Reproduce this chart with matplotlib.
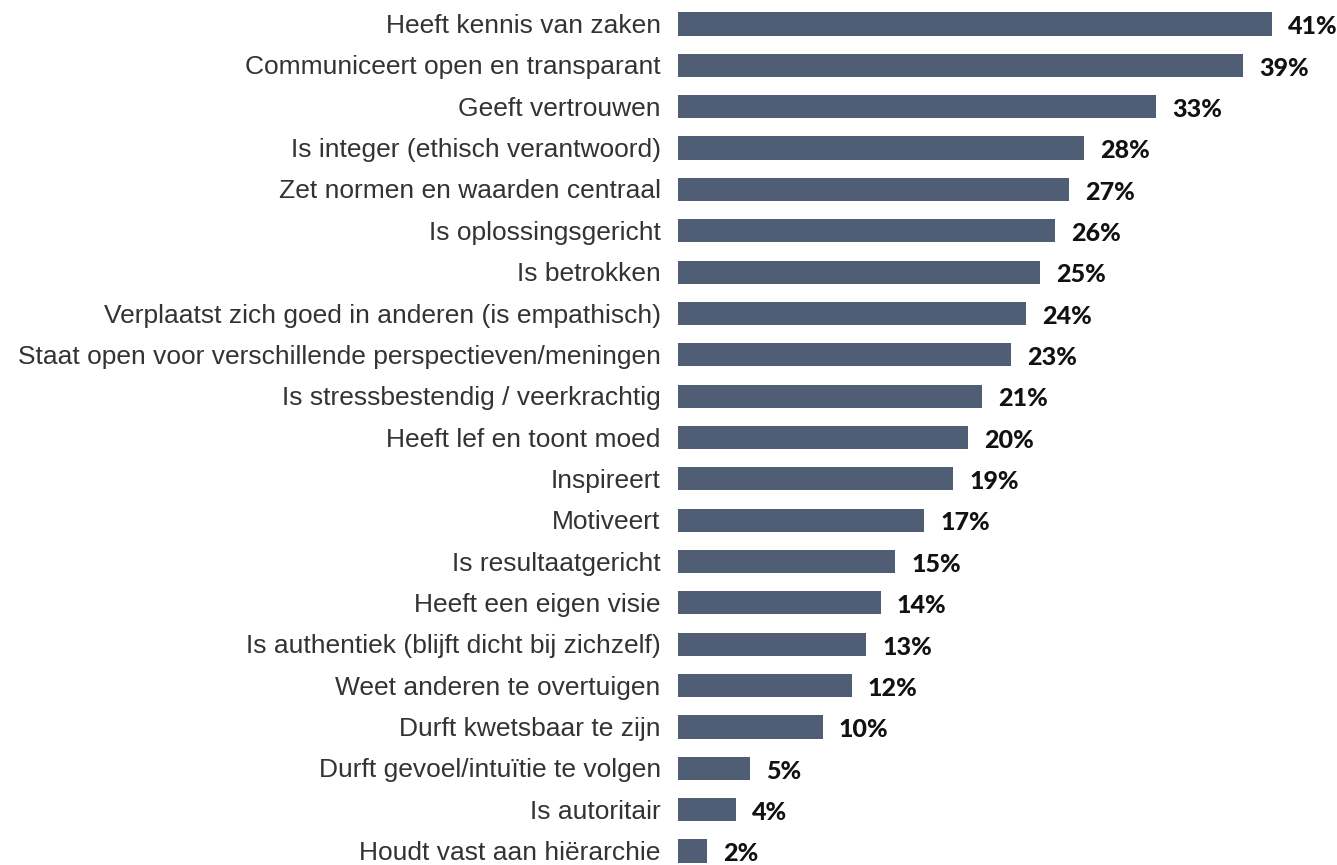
import matplotlib
matplotlib.use("Agg")
import matplotlib.pyplot as plt

categories = [
    "Heeft kennis van zaken",
    "Communiceert open en transparant",
    "Geeft vertrouwen",
    "Is integer (ethisch verantwoord)",
    "Zet normen en waarden centraal",
    "Is oplossingsgericht",
    "Is betrokken",
    "Verplaatst zich goed in anderen (is empathisch)",
    "Staat open voor verschillende perspectieven/meningen",
    "Is stressbestendig / veerkrachtig",
    "Heeft lef en toont moed",
    "Inspireert",
    "Motiveert",
    "Is resultaatgericht",
    "Heeft een eigen visie",
    "Is authentiek (blijft dicht bij zichzelf)",
    "Weet anderen te overtuigen",
    "Durft kwetsbaar te zijn",
    "Durft gevoel/intuïtie te volgen",
    "Is autoritair",
    "Houdt vast aan hiërarchie",
]
values = [41, 39, 33, 28, 27, 26, 25, 24, 23, 21, 20, 19, 17, 15, 14, 13, 12, 10, 5, 4, 2]

W, H = 1337, 865
fig = plt.figure(figsize=(W / 100, H / 100), dpi=100)

# axes placed in pixel terms
x0 = 678
px_per_pct = 14.49
row = 41.35
first_center = 24
n = len(values)
top_px = first_center - row / 2
bottom_px = top_px + row * n
xmax = (W - x0) / px_per_pct
ax = fig.add_axes([x0 / W, (H - bottom_px) / H, (W - x0) / W, (bottom_px - top_px) / H])

ypos = list(range(n))
ax.barh(ypos, values, height=0.56, color="#4f5d75", left=0)
ax.set_xlim(0, xmax)
ax.set_ylim(n - 0.5, -0.5)
ax.axis("off")

for y, cat, v in zip(ypos, categories, values):
    ax.annotate(cat, (0, y), xytext=(-12.5, -1.5), textcoords="offset points",
                ha="right", va="center", fontsize=19, color="#333333",
                family="Liberation Sans")
    ax.annotate(f"{v}%", (v, y), xytext=(11.5, -2), textcoords="offset points",
                ha="left", va="center", fontsize=18, fontweight="black",
                color="#111111", family="Lato")

fig.savefig("out.png", dpi=100)
